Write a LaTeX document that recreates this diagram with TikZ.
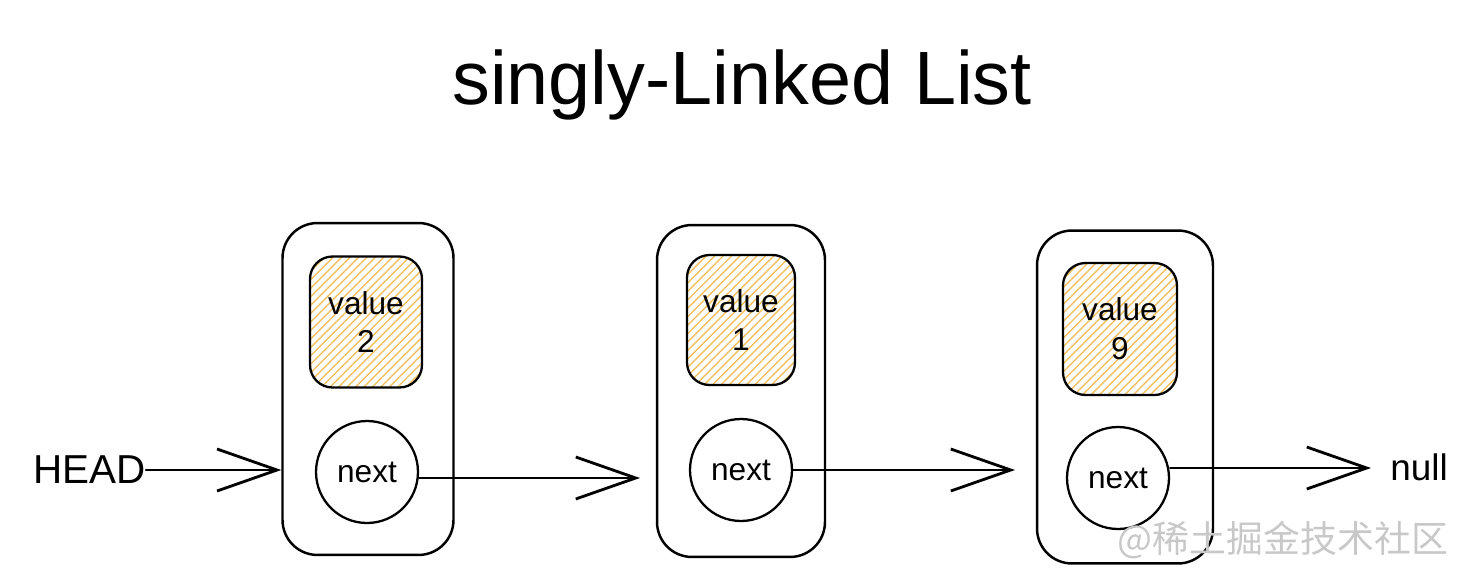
\documentclass[tikz,border=0pt]{standalone}
\usepackage{fontspec}
\setmainfont{Liberation Sans}
\newfontfamily\cjkfont{Noto Sans CJK SC}
\usetikzlibrary{arrows.meta,patterns.meta}
\definecolor{hatch}{HTML}{F0C060}
\definecolor{hatchbg}{HTML}{FDF3DC}
\definecolor{wm}{HTML}{C8C8C8}
\tikzset{
  outerbox/.style={draw=black, line width=1.4pt, rounded corners=0.7cm, inner sep=0pt},
  valbox/.style={draw=black, line width=1.3pt, rounded corners=0.45cm, inner sep=0pt,
     fill=hatchbg, pattern={Lines[angle=45,distance=3.4pt,line width=0.8pt]}, pattern color=hatch,
     font=\fontsize{18}{22}\selectfont, align=center},
  nextnode/.style={draw=black, line width=1.3pt, circle, minimum size=2.04cm, inner sep=0pt,
     font=\fontsize{18}{22}\selectfont},
  lbl/.style={font=\fontsize{23}{27}\selectfont, inner sep=0pt},
  link/.style={line width=1.2pt, line cap=round, -{Straight Barb[length=1.2cm,width=0.84cm,line width=1.6pt]}},
}
\begin{document}
\begin{tikzpicture}[x=0.02cm,y=-0.02cm]
\useasboundingbox (0,0) rectangle (1482,582);
% title
\node[font=\fontsize{43}{50}\selectfont, inner sep=0pt] (title) at (742,85) {singly-Linked List};
% outer boxes
\node[outerbox, minimum width=3.42cm, minimum height=6.64cm] (n1) at (368,389) {};
\node[outerbox, minimum width=3.36cm, minimum height=6.64cm] (n2) at (741,391) {};
\node[outerbox, minimum width=3.52cm, minimum height=6.66cm] (n3) at (1125,397) {};
% value boxes
\node[valbox, minimum width=2.24cm, minimum height=2.62cm] (v1) at (366,322) {value\\2};
\node[valbox, minimum width=2.16cm, minimum height=2.60cm] (v2) at (741,320) {value\\1};
\node[valbox, minimum width=2.28cm, minimum height=2.64cm] (v3) at (1120,329) {value\\9};
% next circles
\node[nextnode] (c1) at (367,472) {next};
\node[nextnode] (c2) at (741,470) {next};
\node[nextnode] (c3) at (1118,478) {next};
% labels
\node[lbl, anchor=east] (head) at (146,470) {HEAD};
\node[font=\fontsize{21}{25}\selectfont, inner sep=0pt, anchor=west] (null) at (1390,467) {null};
% links
\draw[link] (head.east) -- (n1.west |- head.east);
\draw[link] (c1.east |- 0,478) -- (640,478) coordinate (t1);
\draw[link] (c2.east) -- (1015,470) coordinate (t2);
\draw[link, shorten >=0.38cm] (c3.east |- 0,468) -- (null.west |- 0,468);
% watermark
\node[text=wm, font=\cjkfont\fontsize{21}{25}\selectfont, inner sep=0pt] (wmark) at (1283,540) {@稀土掘金技术社区};
\end{tikzpicture}
\end{document}
